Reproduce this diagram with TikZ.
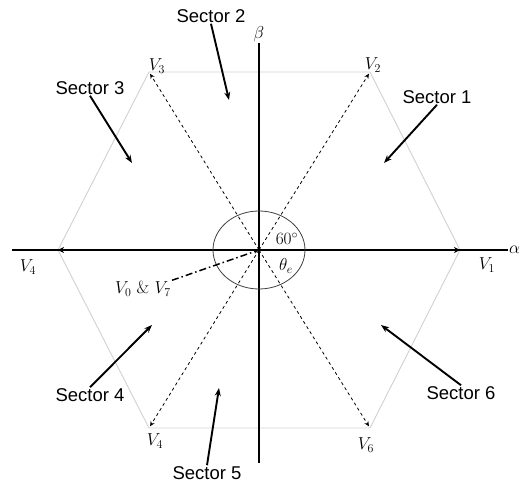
\documentclass[tikz,border=0pt]{standalone}
\usepackage{fontspec}
\setsansfont{Liberation Sans}
\usetikzlibrary{arrows.meta, positioning, calc}

\begin{document}
\begin{tikzpicture}[x=1pt, y=-1pt,
    sector/.style={font=\sffamily\fontsize{18.5}{20}\selectfont, inner sep=1pt},
    vlabel/.style={font=\fontsize{17.5}{19}\selectfont, inner sep=1pt},
    axisline/.style={line width=2.6pt},
    hexline/.style={draw=black!18, line width=0.9pt},
    vecarrow/.style={dashed, line width=0.8pt, -{Stealth[length=5pt, width=4.5pt]}, shorten >=2pt},
    secarrow/.style={line width=1.9pt, -{Stealth[length=8pt, width=6pt]}}]
    \useasboundingbox (0,0) rectangle (523,486);

    % centre, vertices and axis ends
    \coordinate (O) at (259,250);
    \coordinate (v1) at (460,250);
    \coordinate (v2) at (370,72);
    \coordinate (v3) at (149,72);
    \coordinate (v4) at (58,250);
    \coordinate (v5) at (149,428);
    \coordinate (v6) at (370,428);
    \coordinate (axl) at (12,250);
    \coordinate (axr) at (508,250);
    \coordinate (axt) at (259,43);
    \coordinate (axb) at (259,463);

    % hexagon
    \draw[hexline] (v1) -- (v2) -- (v3) -- (v4) -- (v5) -- (v6) -- cycle;

    % voltage vectors
    \foreach \v in {v2, v3, v5, v6}
        \draw[vecarrow] (O) -- (\v);

    % axes
    \draw[axisline] (axl) -- (axr);
    \draw[axisline] (axb) -- (axt);
    \draw[axisline, -{Stealth[length=6pt, width=6pt]}] (O) -- (v1);
    \draw[axisline, -{Stealth[length=6pt, width=6pt]}] (O) -- (v4);
    \node[vlabel, anchor=west] (alpha) at (axr) {$\alpha$};
    \node[vlabel, anchor=south] (beta) at (axt) {$\beta$};

    % angle ellipse
    \draw[black!75, line width=0.8pt] (O) ellipse [x radius=46, y radius=39];
    \node[font=\fontsize{18}{20}\selectfont, inner sep=0pt] (ang) at (287,239) {$60^{\circ}$};
    \node[font=\fontsize{18}{20}\selectfont, inner sep=0pt] (theta) at (286,266) {$\theta_e$};

    % vertex labels
    \node[vlabel] (lv1) at (487,265) {$V_1$};
    \node[vlabel] (lv2) at (373,65) {$V_2$};
    \node[vlabel] (lv3) at (157,66) {$V_3$};
    \node[vlabel] (lv4) at (28,267) {$V_4$};
    \node[vlabel] (lv5) at (155,441) {$V_4$};
    \node[vlabel] (lv6) at (366,445) {$V_6$};

    % zero vectors
    \node[vlabel] (lv0) at (143,289) {$V_0$ \& $V_7$};
    \draw[line width=1.5pt, dash pattern=on 7pt off 3pt on 1.5pt off 3pt,
        -{Stealth[length=5pt, width=4pt]}] (lv0.north east) -- (O);

    % sectors
    \node[sector] (s1) at (437,97) {Sector 1};
    \node[sector] (s2) at (211,16) {Sector 2};
    \node[sector] (s3) at (90,88) {Sector 3};
    \node[sector] (s4) at (90,395) {Sector 4};
    \node[sector] (s5) at (207,473) {Sector 5};
    \node[sector] (s6) at (461,393) {Sector 6};
    \coordinate (t1) at (384,163);
    \coordinate (t2) at (229,100);
    \coordinate (t3) at (132,163);
    \coordinate (t4) at (152,325);
    \coordinate (t5) at (219,388);
    \coordinate (t6) at (381,325);
    \draw[secarrow] (s1.south) -- (t1);
    \draw[secarrow] (s2.south) -- (t2);
    \draw[secarrow] (s3.south) -- (t3);
    \draw[secarrow] (s4.north) -- (t4);
    \draw[secarrow] (s5.north) -- (t5);
    \draw[secarrow] (s6.north) -- (t6);
\end{tikzpicture}
\end{document}
